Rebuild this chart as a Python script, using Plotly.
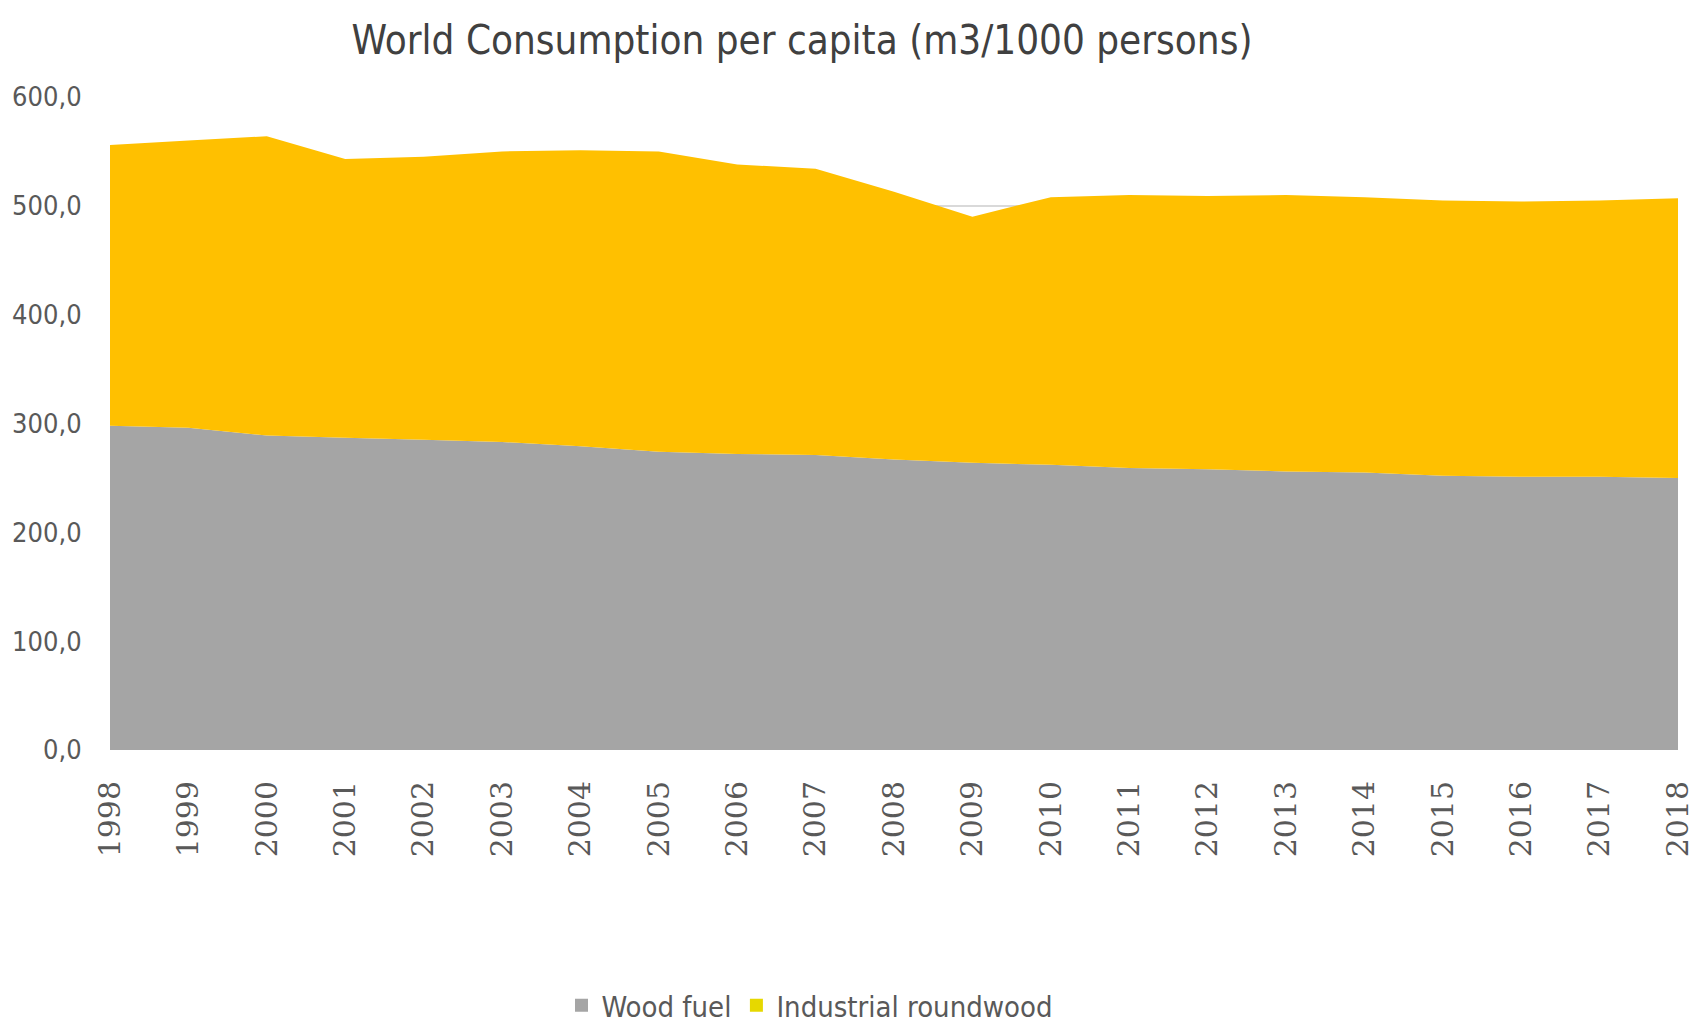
import plotly.graph_objects as go

years = list(range(1998, 2019))
wood_fuel = [298, 296, 289, 287, 285, 283, 279, 274, 272, 271, 267,
             264, 262, 259, 258, 256, 255, 252, 251, 251, 250]
industrial_roundwood = [258, 264, 275, 256, 260, 267, 272, 276, 266, 263, 246,
                        226, 246, 251, 251, 254, 253, 253, 253, 254, 257]
y_ticks = [0, 100, 200, 300, 400, 500, 600]
series_names = ["Wood fuel", "Industrial roundwood"]
series_colors = ["#A5A5A5", "#FFC000"]
legend_colors = ["#A5A5A5", "#E6D800"]

narrow = "DejaVu Sans Condensed, Liberation Sans Narrow, Arial Narrow, Liberation Sans, sans-serif"

fig = go.Figure()
for name, vals, col in zip(series_names, [wood_fuel, industrial_roundwood], series_colors):
    fig.add_trace(go.Scatter(
        x=years, y=vals, name=name, stackgroup="one", showlegend=False,
        mode="none", fillcolor=col, line=dict(width=0)))
for name, col in zip(series_names, legend_colors):
    fig.add_trace(go.Scatter(
        x=[None], y=[None], name=name, mode="markers",
        marker=dict(symbol="square", size=13, color=col)))

fig.update_layout(
    width=1698, height=1031,
    paper_bgcolor="white", plot_bgcolor="white",
    margin=dict(l=110, r=20, t=97, b=281, autoexpand=False),
    separators=",.",
    title=dict(text="World Consumption per capita (m3/1000 persons)",
               x=802 / 1698, xanchor="center", y=1 - 40 / 1031, yanchor="middle",
               font=dict(family=narrow, size=40, color="#404040")),
    xaxis=dict(range=[1998, 2018], tickmode="array", tickvals=years,
               ticktext=[str(y) for y in years], tickangle=-90,
               tickfont=dict(family="DejaVu Serif, Liberation Serif, serif", size=30, color="#595959"),
               showgrid=False, zeroline=False, showline=False, automargin=False,
               ticklabeloverflow="allow",
               ticks="outside", ticklen=18, tickcolor="rgba(0,0,0,0)"),
    yaxis=dict(range=[0, 600], tickmode="array", tickvals=y_ticks, tickformat=".1f",
               tickfont=dict(family=narrow, size=27, color="#595959"),
               showgrid=True, gridcolor="#D9D9D9", gridwidth=2, zeroline=False,
               showline=False, automargin=False,
               ticks="outside", ticklen=22, tickcolor="rgba(0,0,0,0)"),
    legend=dict(orientation="h", x=(810 - 110) / 1568, xanchor="center",
                y=(750 - 1031) / 653, yanchor="bottom", traceorder="normal",
                font=dict(family=narrow, size=29, color="#595959"),
                itemwidth=30),
    showlegend=True,
)

fig.write_html("out.html")
